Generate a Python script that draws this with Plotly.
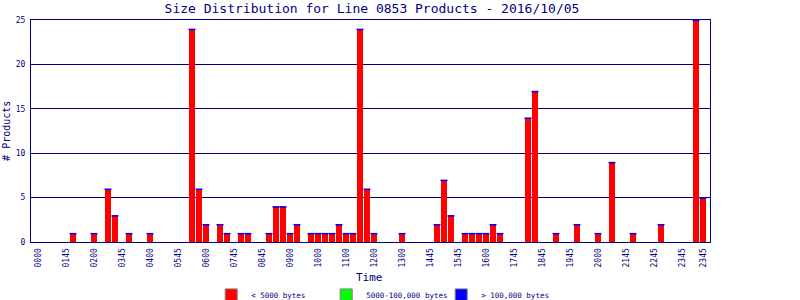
import plotly.graph_objects as go

# 15-minute time bins for the day
times = [f"{h:02d}{m:02d}" for h in range(24) for m in (0, 15, 30, 45)]

# counts per bin
small = [0, 0, 0, 0, 0, 1, 0, 0, 1, 0, 6, 3, 0, 1, 0, 0,
         1, 0, 0, 0, 0, 0, 24, 6, 2, 0, 2, 1, 0, 1, 1, 0,
         0, 1, 4, 4, 1, 2, 0, 1, 1, 1, 1, 2, 1, 1, 24, 6,
         1, 0, 0, 0, 1, 0, 0, 0, 0, 2, 7, 3, 0, 1, 1, 1,
         1, 2, 1, 0, 0, 0, 14, 17, 0, 0, 1, 0, 0, 2, 0, 0,
         1, 0, 9, 0, 0, 1, 0, 0, 0, 2, 0, 0, 0, 0, 25, 5]
medium = [0] * 96
large = [0] * 96

tick_bins = ["0000", "0100", "0200", "0300", "0400", "0500", "0600", "0700",
             "0800", "0900", "1000", "1100", "1200", "1300", "1400", "1500",
             "1600", "1700", "1800", "1900", "2000", "2100", "2200", "2300", "2345"]
tick_labels = ["0000", "0145", "0200", "0345", "0400", "0545", "0600", "0745",
               "0845", "0900", "1000", "1100", "1200", "1300", "1445", "1545",
               "1600", "1745", "1845", "1945", "2000", "2145", "2245", "2345", "2345"]

NAVY = "#000080"
FONT = "DejaVu Sans Mono"

fig = go.Figure()
fig.add_bar(x=times, y=small, marker=dict(color="#FF0000", line=dict(width=0)),
            showlegend=False, hoverinfo="skip")
fig.add_bar(x=times, y=medium, marker=dict(color="#00FF00", line=dict(width=0)),
            showlegend=False, hoverinfo="skip")
fig.add_bar(x=times, y=large, marker=dict(color="#0000FF", line=dict(width=0)),
            showlegend=False, hoverinfo="skip")

# thin blue cap on top of each non-empty bin
cap_x = [t for t, v in zip(times, small) if v > 0]
cap_y = [v - 0.06 for v in small if v > 0]
fig.add_scatter(x=cap_x, y=cap_y, mode="markers", showlegend=False, hoverinfo="skip",
                marker=dict(symbol="line-ew", size=5, color="#0000FF",
                            line=dict(color="#0000FF", width=1.5)))

# legend entries
for name, col in [("< 5000 bytes", "#FF0000"), ("5000-100,000 bytes", "#00FF00"),
                  ("> 100,000 bytes", "#0000FF")]:
    fig.add_bar(x=[None], y=[None], name=name,
                marker=dict(color=col, line=dict(color="#808080", width=1)))

fig.update_layout(
    width=800, height=300,
    margin=dict(l=31, r=90, t=20, b=58),
    paper_bgcolor="white", plot_bgcolor="white",
    barmode="stack", bargap=0.14,
    font=dict(family=FONT, color=NAVY, size=9),
    title=dict(text="Size Distribution for Line 0853 Products - 2016/10/05",
               x=0.465, xanchor="center", y=0.972, yanchor="middle",
               font=dict(family=FONT, size=13, color=NAVY)),
    xaxis=dict(type="category", categoryorder="array", categoryarray=times,
               range=[-1, 96], tickmode="array", tickvals=tick_bins, ticktext=tick_labels,
               tickangle=-90, tickfont=dict(size=8, color=NAVY), ticks="",
               ticklabelstandoff=2,
               showline=True, linecolor=NAVY, linewidth=1, mirror=True,
               showgrid=False, zeroline=False, automargin=False),
    yaxis=dict(range=[0, 25], tickvals=[0, 5, 10, 15, 20, 25],
               tickfont=dict(size=8, color=NAVY), ticks="",
               ticklabelstandoff=3,
               showline=True, linecolor=NAVY, linewidth=1, mirror=True,
               showgrid=True, gridcolor=NAVY, gridwidth=1, zeroline=False,
               automargin=False),
    annotations=[
        dict(text="Time", xref="paper", yref="paper", x=0.499, y=-0.162,
             xanchor="center", yanchor="middle", showarrow=False,
             font=dict(size=11, color=NAVY, family=FONT)),
        dict(text="# Products", xref="paper", yref="paper", x=-0.037, y=0.5,
             xanchor="center", yanchor="middle", showarrow=False, textangle=-90,
             font=dict(size=10, color=NAVY, family=FONT)),
    ],
    legend=dict(orientation="h", xref="container", yref="container",
                x=0.264, xanchor="left", y=0.017, yanchor="middle",
                traceorder="normal",
                font=dict(size=7.5, color=NAVY), entrywidth=70,
                itemwidth=30, bgcolor="rgba(0,0,0,0)"),
)

fig.write_html("out.html")
